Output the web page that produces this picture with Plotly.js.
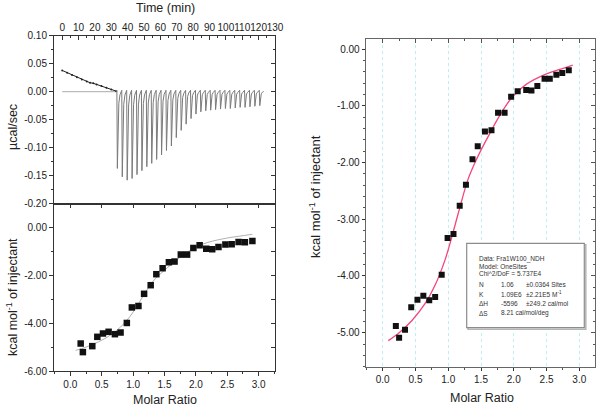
<!DOCTYPE html>
<html><head><meta charset="utf-8">
<script src="https://cdn.plot.ly/plotly-3.0.1.min.js"></script>
<style>html,body{margin:0;padding:0;background:#fff}#chart{width:600px;height:408px}</style>
</head><body><div id="chart"></div>
<script>
// ---- Raw thermogram (top-left) ----
const driftTime  = [0, 3, 6, 9, 12, 15, 17, 19, 21, 24, 27, 30, 33];
const driftPower = [0.038, 0.034, 0.030, 0.026, 0.022, 0.018, 0.016, 0.015, 0.013, 0.010, 0.007, 0.004, 0.001];
const baselineTime  = [0, 33];
const baselinePower = [0, 0];
const injectionTime = [33.5, 36.5, 39.5, 42.5, 45.5, 48.5, 51.5, 54.5, 57.5, 60.5, 63.5, 66.5, 69.5, 72.5, 75.5,
                       78.5, 81.5, 84.5, 87.5, 90.5, 93.5, 96.5, 99.5, 102.5, 105.5, 108.5, 111.5, 114.5, 117.5, 120.5];
const injectionPeak = [-0.137, -0.152, -0.158, -0.155, -0.148, -0.141, -0.134, -0.128, -0.121, -0.113, -0.105, -0.097,
                       -0.082, -0.069, -0.058, -0.048, -0.040, -0.036, -0.034, -0.033, -0.032, -0.031, -0.030, -0.030,
                       -0.029, -0.028, -0.028, -0.027, -0.026, -0.025];

// ---- Integrated heats (bottom-left) ----
const leftRatio = [0.165, 0.20, 0.35, 0.43, 0.52, 0.61, 0.71, 0.80, 0.90, 0.98, 1.085, 1.175, 1.28, 1.37, 1.47,
                   1.57, 1.66, 1.76, 1.86, 1.96, 2.06, 2.165, 2.26, 2.36, 2.47, 2.57, 2.68, 2.78, 2.90];
const leftHeat  = [-4.85, -5.21, -4.96, -4.57, -4.43, -4.36, -4.46, -4.39, -3.99, -3.34, -3.28, -2.77, -2.41, -1.95, -1.70,
                   -1.45, -1.42, -1.13, -1.13, -0.85, -0.74, -0.89, -0.91, -0.81, -0.71, -0.70, -0.60, -0.61, -0.56];

// ---- Integrated heats (right) ----
const rightRatio = [0.20, 0.25, 0.34, 0.435, 0.53, 0.62, 0.71, 0.80, 0.90, 0.99, 1.08, 1.175, 1.27, 1.37, 1.45,
                    1.56, 1.66, 1.76, 1.86, 1.96, 2.06, 2.19, 2.27, 2.36, 2.47, 2.55, 2.65, 2.74, 2.84];
const rightHeat  = [-4.88, -5.09, -4.95, -4.55, -4.42, -4.35, -4.43, -4.37, -3.98, -3.33, -3.26, -2.76, -2.39, -1.94, -1.71,
                    -1.45, -1.43, -1.12, -1.12, -0.84, -0.74, -0.72, -0.73, -0.65, -0.52, -0.52, -0.45, -0.42, -0.37];

// ---- One-site fit curve ----
const fitRatio = [0.085, 0.25, 0.45, 0.65, 0.80, 0.95, 1.05, 1.175, 1.30, 1.40, 1.50, 1.60, 1.78, 1.98, 2.19, 2.49, 2.69, 2.90];
const fitHeat  = [-5.14, -5.00, -4.78, -4.48, -4.16, -3.72, -3.33, -2.80, -2.30, -2.02, -1.78, -1.56, -1.18, -0.84, -0.62, -0.44, -0.36, -0.28];

// ---- Tick labels ----
const powerTicks = [0.10, 0.05, 0.00, -0.05, -0.10, -0.15, -0.20];
const leftHeatTicks = [0, -2, -4, -6];
const rightHeatTicks = [0, -1, -2, -3, -4, -5];

// ---- Fit results box ----
const boxHeader = ['Data: Fra1W100_NDH', 'Model: OneSites', 'Chi^2/DoF = 5.737E4'];
const boxParam  = ['N', 'K', 'ΔH', 'ΔS'];
const boxValue  = ['1.06', '1.09E6', '-5596', '8.21 cal/mol/deg'];
const boxError  = ['±0.0364 Sites', '±2.21E5 M<sup>-1</sup>', '±249.2 cal/mol', ''];

// build the thermogram polyline from injection times / peak depths
const rawT = [], rawP = [];
injectionTime.forEach((t, i) => {
  const d = injectionPeak[i];
  rawT.push(t - 0.4, t - 0.1, t + 0.2, t + 0.6, t + 1.1, t + 1.8, t + 2.6);
  rawP.push(0.0005, 0.0025, d, d * 0.45, d * 0.15, d * 0.04, 0.0005);
});

const FONT = 'Arial, "Liberation Sans", sans-serif';
const tickFont = {family: FONT, size: 10, color: '#222'};
const W = 600, H = 408;
const px = v => v / W, py = v => 1 - v / H;

const ax = (o) => Object.assign({
  showgrid: false, zeroline: false, showline: true, linecolor: '#333', linewidth: 1,
  tickcolor: '#333', tickfont: tickFont, tickangle: 0, fixedrange: true
}, o);
const overlay = (o) => Object.assign({
  showgrid: false, zeroline: false, showline: false, showticklabels: false,
  ticks: 'inside', ticklen: 4, tickcolor: '#333', fixedrange: true
}, o);

const leftDom = [px(54), px(275)];
const topDom = [py(203.7), py(35.7)];
const botDom = [py(371), py(203.7)];
const rightXDom = [px(365.7), px(595)];
const rightYDom = [py(366.7), py(39)];

const traces = [
  {x: baselineTime, y: baselinePower, xaxis: 'x', yaxis: 'y', mode: 'lines', line: {color: '#aaaaaa', width: 1}, hoverinfo: 'skip'},
  {x: driftTime, y: driftPower, xaxis: 'x', yaxis: 'y', mode: 'lines+markers', line: {color: '#222', width: 1}, marker: {size: 2, color: '#222'}},
  {x: rawT, y: rawP, xaxis: 'x', yaxis: 'y', mode: 'lines', line: {color: '#7a7a7a', width: 1}},
  {x: fitRatio, y: fitHeat, xaxis: 'x2', yaxis: 'y2', mode: 'lines', line: {color: '#b0b0b0', width: 1, shape: 'spline'}},
  {x: leftRatio, y: leftHeat, xaxis: 'x2', yaxis: 'y2', mode: 'markers', marker: {symbol: 'square', size: 6.5, color: '#111'}},
  {x: fitRatio, y: fitHeat, xaxis: 'x3', yaxis: 'y3', mode: 'lines', line: {color: '#f5457a', width: 1.3, shape: 'spline'}},
  {x: rightRatio, y: rightHeat, xaxis: 'x3', yaxis: 'y3', mode: 'markers', marker: {symbol: 'square', size: 6, color: '#111'}},
  {x: [], y: [], xaxis: 'x', yaxis: 'y4', mode: 'markers'},
  {x: [], y: [], xaxis: 'x2', yaxis: 'y5', mode: 'markers'},
  {x: [], y: [], xaxis: 'x3', yaxis: 'y6', mode: 'markers'},
  {x: [], y: [], xaxis: 'x4', yaxis: 'y3', mode: 'markers'},
  {x: [], y: [], xaxis: 'x5', yaxis: 'y2', mode: 'markers'}
];

const titleFont = (s) => ({family: FONT, size: s, color: '#222'});
const annotations = [
  {text: 'Time (min)', x: px(165), y: py(7.5), font: titleFont(12.5)},
  {text: 'µcal/sec', x: px(13), y: py(127), textangle: -90, font: titleFont(12.5)},
  {text: 'kcal mol<sup>-1</sup> of injectant', x: px(12), y: py(297), textangle: -90, font: titleFont(12.5)},
  {text: 'Molar Ratio', x: px(165), y: py(400), font: titleFont(12.5)},
  {text: 'kcal mol<sup>-1</sup> of injectant', x: px(315), y: py(197), textangle: -90, font: titleFont(13)},
  {text: 'Molar Ratio', x: px(481.7), y: py(398), font: titleFont(12.5)}
].map(a => Object.assign({xref: 'paper', yref: 'paper', showarrow: false, xanchor: 'center', yanchor: 'middle'}, a));

const boxFont = {family: FONT, size: 6.5, color: '#333'};
const headerY = [258.5, 266, 273.5];
const rowY = [284, 294, 303.5, 313];
boxHeader.forEach((t, i) => annotations.push({text: t, x: px(477), y: py(headerY[i])}));
boxParam.forEach((t, i) => {
  annotations.push({text: t, x: px(477), y: py(rowY[i])});
  annotations.push({text: boxValue[i], x: px(499), y: py(rowY[i])});
  if (boxError[i]) annotations.push({text: boxError[i], x: px(524), y: py(rowY[i])});
});
annotations.forEach(a => {
  if (!a.font) { a.font = boxFont; a.xref = 'paper'; a.yref = 'paper'; a.showarrow = false; a.xanchor = 'left'; a.yanchor = 'middle'; }
});

const layout = {
  width: W, height: H, margin: {l: 0, r: 0, t: 0, b: 0},
  paper_bgcolor: '#fff', plot_bgcolor: 'rgba(0,0,0,0)', showlegend: false,
  font: {family: FONT},
  xaxis: ax({domain: leftDom, anchor: 'y', side: 'top', range: [-5, 130], tick0: 0, dtick: 10,
             ticks: 'inside', ticklen: 4, minor: {dtick: 5, ticklen: 2, ticks: 'inside', tickcolor: '#333'}, mirror: true}),
  yaxis: ax({domain: topDom, anchor: 'x', range: [-0.2, 0.1], tickmode: 'array', tickvals: powerTicks,
             ticktext: powerTicks.map(v => v.toFixed(2)), ticks: 'outside', ticklen: 4,
             minor: {dtick: 0.025, tick0: 0, ticklen: 2, ticks: 'outside', tickcolor: '#333'}, mirror: true}),
  xaxis2: ax({domain: leftDom, anchor: 'y2', range: [-0.26, 3.26], tick0: 0, dtick: 0.5, tickformat: '.1f',
              ticks: 'outside', ticklen: 4, minor: {dtick: 0.25, tick0: 0, ticklen: 2, ticks: 'outside', tickcolor: '#333'}, mirror: true}),
  yaxis2: ax({domain: botDom, anchor: 'x2', range: [-6, 1], tickmode: 'array', tickvals: leftHeatTicks,
              ticktext: leftHeatTicks.map(v => v.toFixed(2)), ticks: 'outside', ticklen: 4,
              minor: {dtick: 1, tick0: 0, ticklen: 2, ticks: 'outside', tickcolor: '#333'}, mirror: true}),
  xaxis3: ax({domain: rightXDom, anchor: 'y3', range: [-0.26, 3.24], tick0: 0, dtick: 0.5, tickformat: '.1f',
              ticks: 'outside', ticklen: 3, minor: {dtick: 0.25, tick0: 0, ticklen: 2, ticks: 'outside', tickcolor: '#555'},
              showgrid: true, gridcolor: '#bdeff0', griddash: 'dot', gridwidth: 1, mirror: true, linecolor: '#666'}),
  yaxis3: ax({domain: rightYDom, anchor: 'x3', range: [-5.6, 0.18], tickmode: 'array', tickvals: rightHeatTicks,
              ticktext: rightHeatTicks.map(v => v.toFixed(2)), ticks: 'outside', ticklen: 3,
              minor: {dtick: 0.2, tick0: 0, ticklen: 2, ticks: 'outside', tickcolor: '#555'}, mirror: true, linecolor: '#666'}),
  yaxis4: overlay({overlaying: 'y', anchor: 'x', side: 'right', range: [-0.2, 0.1], tick0: 0, dtick: 0.05,
                   minor: {dtick: 0.025, tick0: 0, ticklen: 2, ticks: 'inside', tickcolor: '#333'}}),
  yaxis5: overlay({overlaying: 'y2', anchor: 'x2', side: 'right', range: [-6, 1], tick0: 0, dtick: 1}),
  yaxis6: overlay({overlaying: 'y3', anchor: 'x3', side: 'right', range: [-5.6, 0.18], tick0: 0, dtick: 1, tickcolor: '#555',
                   minor: {dtick: 0.2, tick0: 0, ticklen: 2, ticks: 'inside', tickcolor: '#555'}}),
  xaxis4: overlay({overlaying: 'x3', anchor: 'y3', side: 'top', range: [-0.26, 3.24], tick0: 0, dtick: 0.5, tickcolor: '#555',
                   minor: {dtick: 0.25, tick0: 0, ticklen: 2, ticks: 'inside', tickcolor: '#555'}}),
  xaxis5: overlay({overlaying: 'x2', anchor: 'y2', side: 'top', range: [-0.26, 3.26], tick0: 0, dtick: 0.5}),
  annotations: annotations,
  shapes: [
    {type: 'rect', xref: 'paper', yref: 'paper', x0: px(468), x1: px(585.8), y0: py(329.2), y1: py(244.8),
     line: {color: '#b5b5b5', width: 1.5}, fillcolor: '#ffffff', layer: 'above'},
    {type: 'rect', xref: 'paper', yref: 'paper', x0: px(466.7), x1: px(584.3), y0: py(327.7), y1: py(243.3),
     line: {color: '#8c8c8c', width: 1.2}, fillcolor: '#ffffff', layer: 'above'}
  ]
};

Plotly.newPlot('chart', traces, layout, {staticPlot: true, displayModeBar: false});
</script>
</body></html>
